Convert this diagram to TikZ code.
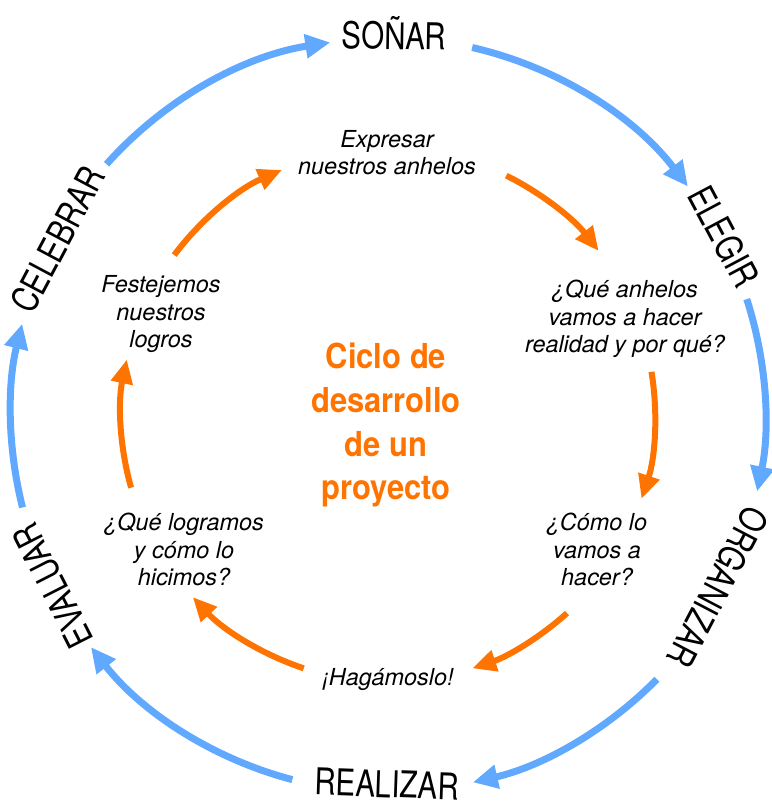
\documentclass[tikz,border=0pt]{standalone}
\usepackage{fontspec}
\setmainfont{TeX Gyre Heros}
\newfontfamily\condfont[FakeStretch=0.8]{TeX Gyre Heros}
\newfontfamily\titlefont[FakeStretch=0.9]{TeX Gyre Heros}
\usetikzlibrary{arrows.meta,calc}
\definecolor{cycblue}{RGB}{97,168,255}
\definecolor{cycorange}{RGB}{255,115,0}
\begin{document}
\begin{tikzpicture}[x=1bp,y=1bp,
  outerlab/.style={inner sep=0pt, font=\condfont\fontsize{37}{37}\selectfont, text=black},
  innertxt/.style={inner sep=0pt, align=center, anchor=base, font=\itshape\fontsize{23.5}{28}\selectfont, text=black},
  titletxt/.style={inner sep=0pt, align=center, anchor=base, font=\titlefont\bfseries\fontsize{34.5}{44}\selectfont, text=cycorange},
  bluearr/.style={draw=cycblue, line width=7bp, -{Triangle[length=25bp,width=23bp]}},
  orangearr/.style={draw=cycorange, line width=6bp, -{Triangle[length=24bp,width=21bp]}}]
\useasboundingbox (0,0) rectangle (772,805);
\coordinate (O) at (388,390);
% outer labels
\node[outerlab, rotate=-1]    (sonar)  at ($(O)+(89.1:382)$) {SOÑAR};
\node[outerlab, rotate=-62]   (elegir) at ($(O)+(28:380)$) {ELEGIR};
\node[outerlab, rotate=-117.6](organizar) at ($(O)+(-27.6:372)$) {ORGANIZAR};
\node[outerlab, rotate=-2]    (realizar) at ($(O)+(-90.2:369)$) {REALIZAR};
\node[outerlab, rotate=117]   (evaluar) at ($(O)+(207:376)$) {EVALUAR};
\node[outerlab, rotate=62]    (celebrar) at ($(O)+(152:374)$) {CELEBRAR};
% outer arcs
\coordinate (b1) at ($(O)+(138.3:377)$);
\coordinate (b2) at ($(O)+(77.1:377)$);
\coordinate (b3) at ($(O)+(17.9:377)$);
\coordinate (b4) at ($(O)+(-44.5:377)$);
\coordinate (b5) at ($(O)+(255.3:377)$);
\coordinate (b6) at ($(O)+(194.2:377)$);
\draw[bluearr] (b1) arc[start angle=138.3, end angle=98.8, radius=377];
\draw[bluearr] (b2) arc[start angle=77.1, end angle=37.3, radius=377];
\draw[bluearr] (b3) arc[start angle=17.9, end angle=-11.7, radius=377];
\draw[bluearr] (b4) arc[start angle=-44.5, end angle=-77, radius=377];
\draw[bluearr] (b5) arc[start angle=255.3, end angle=218, radius=377];
\draw[bluearr] (b6) arc[start angle=194.2, end angle=166, radius=377];
% inner arcs
\coordinate (o1) at ($(O)+(143.2:267)$);
\coordinate (o2) at ($(O)+(63.7:267)$);
\coordinate (o3) at ($(O)+(9.3:267)$);
\coordinate (o4) at ($(O)+(-47.9:267)$);
\coordinate (o5) at ($(O)+(251.6:267)$);
\coordinate (o6) at ($(O)+(195.8:267)$);
\draw[orangearr] (o1) arc[start angle=143.2, end angle=113.4, radius=267];
\draw[orangearr] (o2) arc[start angle=63.7, end angle=37.9, radius=267];
\draw[orangearr] (o3) arc[start angle=9.3, end angle=-18.3, radius=267];
\draw[orangearr] (o4) arc[start angle=-47.9, end angle=-71.6, radius=267];
\draw[orangearr] (o5) arc[start angle=251.6, end angle=223, radius=267];
\draw[orangearr] (o6) arc[start angle=195.8, end angle=168, radius=267];
% inner texts (anchor base = baseline of last line)
\node[innertxt] (t1) at (387,630) {Expresar\\nuestros anhelos};
\node[innertxt] (t2) at (625,452) {¿Qué anhelos\\vamos a hacer\\realidad y por qué?};
\node[innertxt] (t3) at (597,219) {¿Cómo lo\\vamos a\\hacer?};
\node[innertxt] (t4) at (388,119) {¡Hagámoslo!};
\node[innertxt] (t5) at (184,219) {¿Qué logramos\\y cómo lo\\hicimos?};
\node[innertxt] (t6) at (161,457) {Festejemos\\nuestros\\logros};
\node[titletxt] (title) at (386,305) {Ciclo de\\desarrollo\\de un\\proyecto};
\end{tikzpicture}
\end{document}
